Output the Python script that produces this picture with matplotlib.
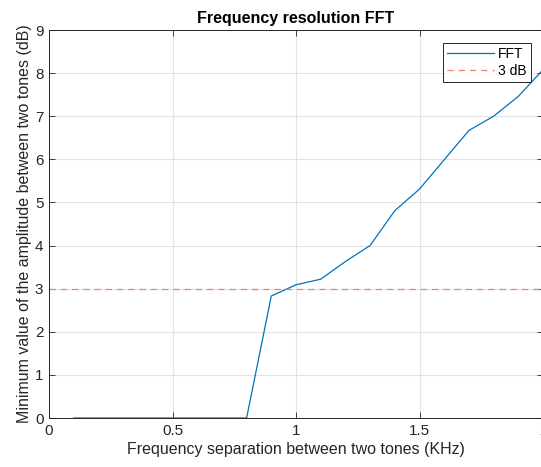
import matplotlib
matplotlib.use("Agg")
import matplotlib.pyplot as plt

# Frequency separation (KHz) and minimum amplitude dip between tones (dB)
separation_khz = [0.1, 0.2, 0.3, 0.4, 0.5, 0.6, 0.7, 0.8, 0.9, 1.0,
                  1.1, 1.2, 1.3, 1.4, 1.5, 1.6, 1.7, 1.8, 1.9, 2.0]
fft_min_db = [0, 0, 0, 0, 0, 0, 0, 0, 2.83, 3.09,
              3.22, 3.63, 4.0, 4.81, 5.31, 5.99, 6.67, 7.0, 7.46, 8.08]
threshold_db = 3
x_ticks = [0, 0.5, 1, 1.5, 2]
x_tick_labels = ["0", "0.5", "1", "1.5", "2"]
y_ticks = list(range(0, 10))

plt.rcParams['font.family'] = ['Liberation Sans', 'DejaVu Sans']

fig = plt.figure(figsize=(5.41, 4.67), dpi=100)
ax = fig.add_axes([49 / 541, 49 / 467, 494 / 541, 388 / 467])

ax.plot(separation_khz, fft_min_db, color='#0072BD', lw=0.9, label='FFT')
ax.axhline(threshold_db, color='#F07C7C', lw=0.9, ls=(0, (5, 4)), label='3 dB')

ax.set_xlim(0, 2)
ax.set_ylim(0, 9)
ax.set_xticks(x_ticks)
ax.set_xticklabels(x_tick_labels)
ax.set_yticks(y_ticks)
ax.grid(True, color='#e3e3e3', lw=0.8)
ax.set_axisbelow(True)
ax.tick_params(direction='in', length=4, width=0.6, labelsize=11,
               colors='#262626', top=True, right=True, pad=4)
for s in ax.spines.values():
    s.set_color('#262626')
    s.set_linewidth(0.7)

ax.set_xlabel('Frequency separation between two tones (KHz)', fontsize=11.5,
              color='#262626', labelpad=3)
ax.set_ylabel('Minimum value of the amplitude between two tones (dB)', fontsize=11.5,
              color='#262626', labelpad=2)
ax.set_title('Frequency resolution FFT', fontsize=11.5, fontweight='bold', pad=5)

leg = ax.legend(loc='upper right', bbox_to_anchor=(0.99, 0.985), fontsize=10,
                fancybox=False, framealpha=1, edgecolor='#262626',
                handlelength=3.4, borderpad=0.3, labelspacing=0.2, handletextpad=0.3)
leg.get_frame().set_linewidth(0.7)

fig.savefig('out.png', dpi=100)
